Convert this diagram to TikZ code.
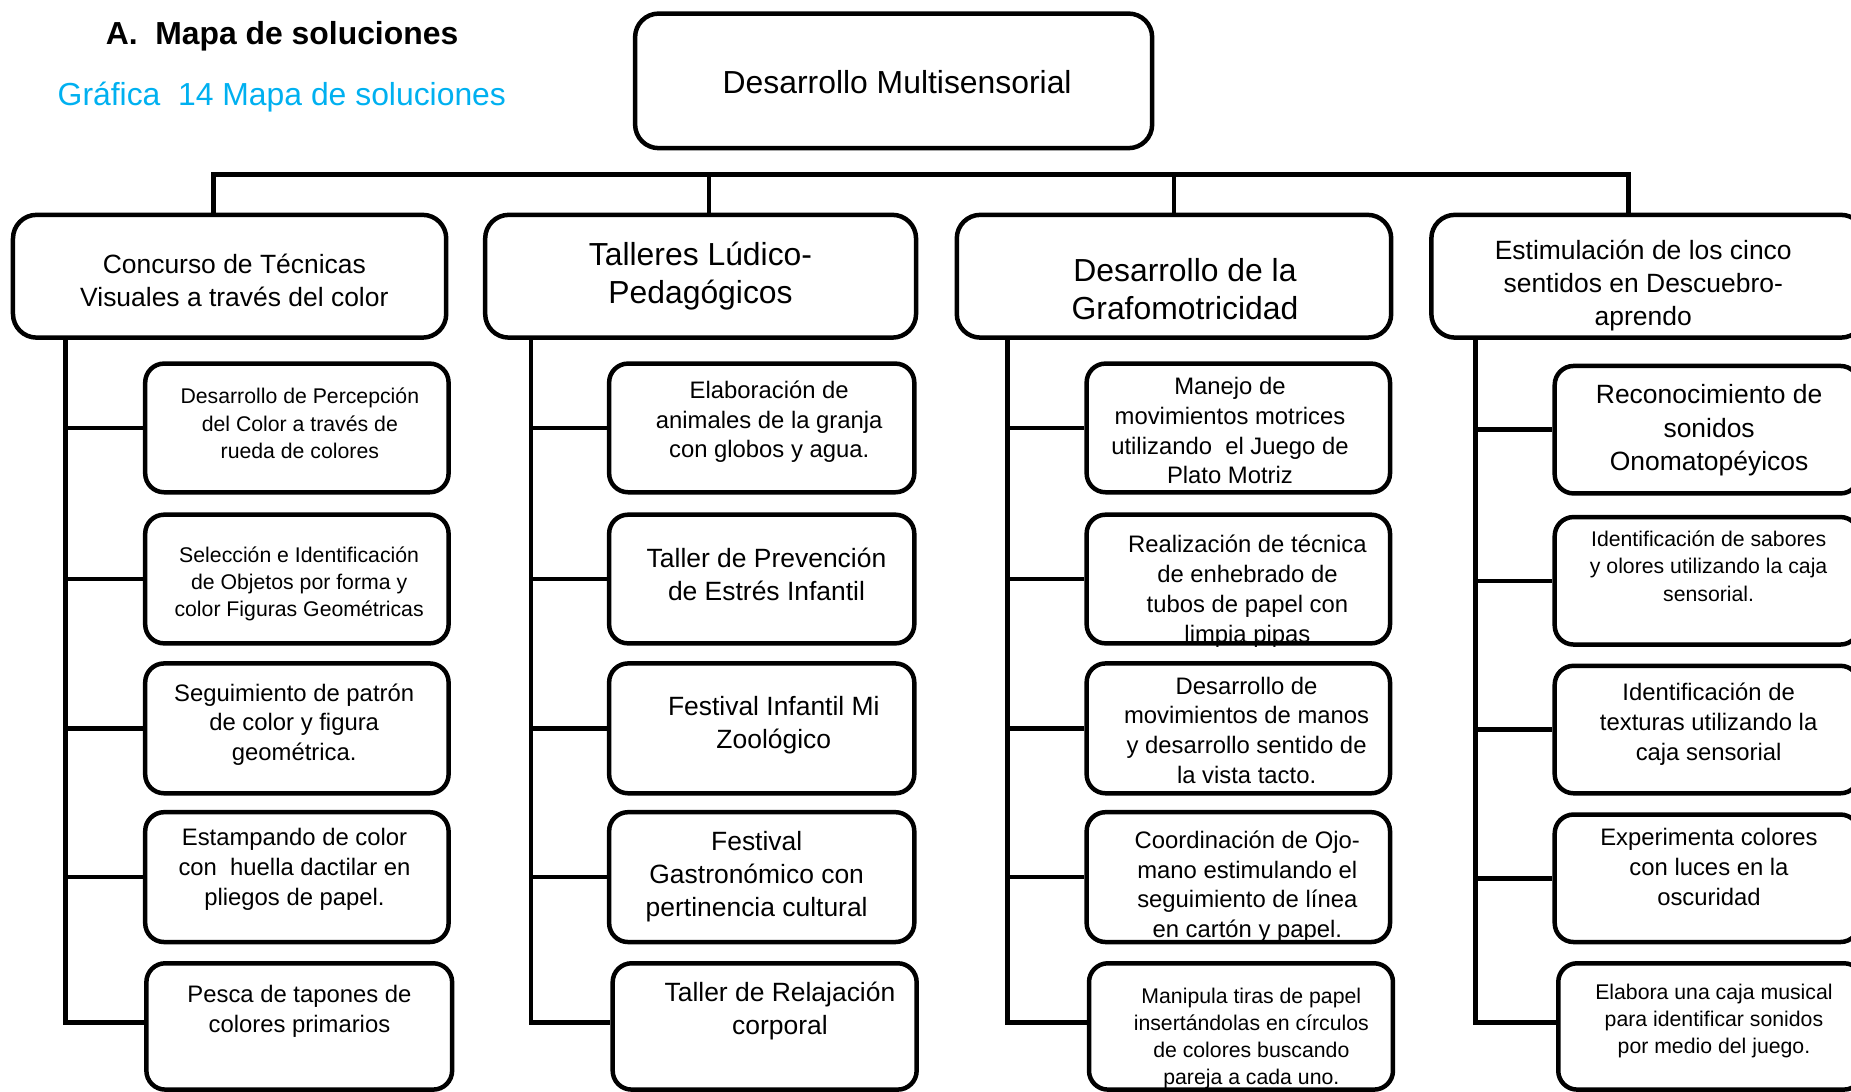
\documentclass[tikz,border=0pt]{standalone}
\usepackage{fontspec}
\setmainfont{Liberation Sans}
\definecolor{titlecyan}{RGB}{0,176,240}
\begin{document}
\begin{tikzpicture}[x=1pt,y=-1pt,
  box/.style={draw, line width=3.8pt, rounded corners=20pt, inner sep=0pt},
  cbox/.style={draw, line width=3.8pt, rounded corners=16pt, inner sep=0pt},
  conn/.style={line width=3.8pt},
  txt/.style={align=center, inner sep=0pt, yshift=-2.5pt, execute at begin node=\strut, execute at end node=\strut},
  tA/.style={txt, font=\fontsize{27}{32}\selectfont},
  tB/.style={txt, font=\fontsize{22.4}{28}\selectfont},
  tC/.style={txt, font=\fontsize{20.2}{25.2}\selectfont},
  tD/.style={txt, font=\fontsize{18}{23}\selectfont},
]
\useasboundingbox (0,0) rectangle (1568,925);
\clip (0,0) rectangle (1568,925);

% titles
\node[anchor=base west, inner sep=0pt, font=\fontsize{27}{32}\selectfont\bfseries] (title) at (89.4,37.3) {A.\ \ Mapa de soluciones};
\node[anchor=base west, inner sep=0pt, font=\fontsize{27}{32}\selectfont, text=titlecyan] (subtitle) at (48.7,89.6) {Gráfica\ \ 14 Mapa de soluciones};

% root
\node[box, minimum width=438pt, minimum height=114pt] (root) at (757,68.5) {};
\node[tA] (troot) at (760,70.3) {Desarrollo Multisensorial};

% level 2 boxes
\node[box, minimum width=367pt, minimum height=104pt] (l1) at (194.5,234) {};
\node[box, minimum width=365pt, minimum height=104pt] (l2) at (593.5,234) {};
\node[box, minimum width=368pt, minimum height=104pt] (l3) at (994.5,234) {};
\node[box, minimum width=367pt, minimum height=104pt] (l4) at (1396,234) {};
\node[tB] (tl1) at (198.5,239.2) {Concurso de Técnicas\\Visuales a través del color};
\node[tA] (tl2) at (593.4,233.5) {Talleres Lúdico-\\Pedagógicos};
\node[tA] (tl3) at (1003.8,247) {Desarrollo de la\\Grafomotricidad};
\node[tB] (tl4) at (1392,241) {Estimulación de los cinco\\sentidos en Descuebro-\\aprendo};

% bus
\coordinate (v1) at ([xshift=-13.5pt]l1.north);
\coordinate (v2) at ([xshift=6.9pt]l2.north);
\coordinate (v3) at (l3.north);
\coordinate (v4) at ([xshift=-16.3pt]l4.north);
\coordinate (bus) at (0,148);
\draw[conn] (v1) -- (v1 |- bus) -- (v4 |- bus) -- (v4);
\draw[conn] (v2) -- (v2 |- bus);
\draw[conn] (v3) -- (v3 |- bus);

% child boxes column 1
\node[cbox, minimum width=257pt, minimum height=109pt] (c11) at (251.5,362.5) {};
\node[cbox, minimum width=257pt, minimum height=109pt] (c12) at (251.5,490.5) {};
\node[cbox, minimum width=257pt, minimum height=110pt] (c13) at (251.5,617) {};
\node[cbox, minimum width=257pt, minimum height=110pt] (c14) at (251.5,743) {};
\node[cbox, minimum width=259pt, minimum height=107pt] (c15) at (253.5,869.5) {};
% column 2
\node[cbox, minimum width=258.5pt, minimum height=109pt] (c21) at (645.25,362.5) {};
\node[cbox, minimum width=258.5pt, minimum height=109pt] (c22) at (645.25,490.5) {};
\node[cbox, minimum width=258.5pt, minimum height=110pt] (c23) at (645.25,617) {};
\node[cbox, minimum width=258.5pt, minimum height=110pt] (c24) at (645.25,743) {};
\node[cbox, minimum width=257.5pt, minimum height=107pt] (c25) at (647.75,869.5) {};
% column 3
\node[cbox, minimum width=257pt, minimum height=109pt] (c31) at (1049,362.5) {};
\node[cbox, minimum width=257pt, minimum height=109pt] (c32) at (1049,490.5) {};
\node[cbox, minimum width=257pt, minimum height=110pt] (c33) at (1049,617) {};
\node[cbox, minimum width=257pt, minimum height=110pt] (c34) at (1049,743) {};
\node[cbox, minimum width=257.5pt, minimum height=107pt] (c35) at (1051.25,869.5) {};
% column 4
\node[cbox, minimum width=258pt, minimum height=108pt] (c41) at (1446,364) {};
\node[cbox, minimum width=258pt, minimum height=108pt] (c42) at (1446,492) {};
\node[cbox, minimum width=258pt, minimum height=108pt] (c43) at (1446,618) {};
\node[cbox, minimum width=258pt, minimum height=108pt] (c44) at (1446,744) {};
\node[cbox, minimum width=258pt, minimum height=107pt] (c45) at (1449,869.5) {};

% child texts
\node[tD] (t11) at (254,359.5) {Desarrollo de Percepción\\del Color a través de\\rueda de colores};
\node[tD] (t12) at (253.4,493.5) {Selección e Identificación\\de Objetos por forma y\\color Figuras Geométricas};
\node[tC] (t13) at (249.2,613) {Seguimiento de patrón\\de color y figura\\geométrica.};
\node[tC] (t14) at (249.5,735.8) {Estampando de color\\con\ \ huella dactilar en\\pliegos de papel.};
\node[tC] (t15) at (253.7,856) {Pesca de tapones de\\colores primarios};

\node[tC] (t21) at (651.6,356.6) {Elaboración de\\animales de la granja\\con globos y agua.};
\node[tB] (t22) at (649.3,488.5) {Taller de Prevención\\de Estrés Infantil};
\node[tB] (t23) at (655.5,613.6) {Festival Infantil Mi\\Zoológico};
\node[tB] (t24) at (641,742.3) {Festival\\Gastronómico con\\pertinencia cultural};
\node[tB] (t25) at (660.7,856.2) {Taller de Relajación\\corporal};

\node[tC] (t31) at (1041.9,366) {Manejo de\\movimientos motrices\\utilizando\ \ el Juego de\\Plato Motriz};
\node[tC] (t32) at (1056.7,500) {Realización de técnica\\de enhebrado de\\tubos de papel con\\limpia pipas};
\node[tC] (t33) at (1056,619.7) {Desarrollo de\\movimientos de manos\\y desarrollo sentido de\\la vista tacto.};
\node[tC] (t34) at (1056.6,750.4) {Coordinación de Ojo-\\mano estimulando el\\seguimiento de línea\\en cartón y papel.};
\node[tD] (t35) at (1060,878.6) {Manipula tiras de papel\\insertándolas en círculos\\de colores buscando\\pareja a cada uno.};

\node[tB] (t41) at (1447.8,363.8) {Reconocimiento de\\sonidos\\Onomatopéyicos};
\node[tD] (t42) at (1447.4,480.5) {Identificación de sabores\\y olores utilizando la caja\\sensorial.};
\node[tC] (t43) at (1447.4,612.7) {Identificación de\\texturas utilizando la\\caja sensorial};
\node[tC] (t44) at (1447.7,735.6) {Experimenta colores\\con luces en la\\oscuridad};
\node[tD] (t45) at (1451.9,864) {Elabora una caja musical\\para identificar sonidos\\por medio del juego.};

% spines and branches
\coordinate (s1) at (55.6,866);
\coordinate (s2) at (449.8,866);
\coordinate (s3) at (853.6,866);
\coordinate (s4) at (1250,866);
\draw[conn] (l1.south -| s1) -- (s1) -- (s1 -| c15.west);
\draw[conn] (l2.south -| s2) -- (s2) -- (s2 -| c25.west);
\draw[conn] (l3.south -| s3) -- (s3) -- (s3 -| c35.west);
\draw[conn] (l4.south -| s4) -- (s4) -- (s4 -| c45.west);
\foreach \c in {1,2,3,4}{
  \foreach \r in {1,2,3,4}{
    \draw[conn] (c\c\r.west -| s\c) -- (c\c\r.west);
  }
}
\end{tikzpicture}
\end{document}
